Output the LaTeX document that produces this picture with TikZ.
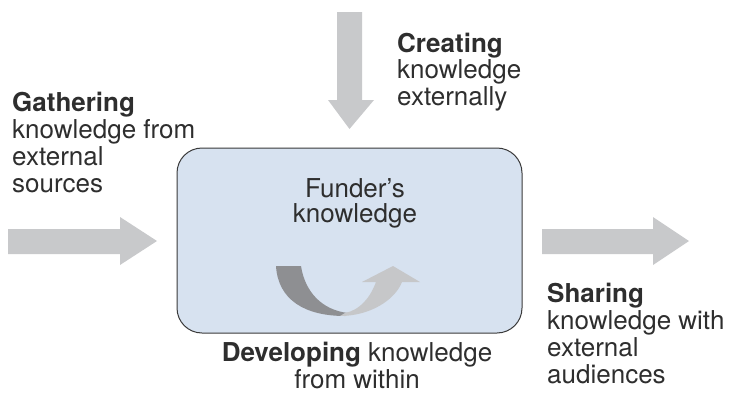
\documentclass[tikz,border=0pt]{standalone}
\usepackage{fontspec}
\setmainfont{TeX Gyre Heros}
\definecolor{arrowgray}{HTML}{C8C9CB}
\definecolor{boxfill}{HTML}{D7E2F0}
\definecolor{boxline}{HTML}{3A3A3A}
\definecolor{txt}{HTML}{2E2E2E}
\definecolor{darkrib}{HTML}{8E8F92}
\definecolor{lightrib}{HTML}{C6C7C9}
\begin{document}
\begin{tikzpicture}[x=1pt,y=-1pt,
  blockarrow/.style={fill=arrowgray,draw=none},
  label/.style={inner sep=0pt,text=txt,font=\fontsize{26}{26.7}\selectfont},
  funderbox/.style={draw=boxline,line width=1pt,fill=boxfill,rounded corners=25pt,minimum width=345pt,minimum height=185pt,inner sep=0pt}]
\useasboundingbox (0,0) rectangle (732,394);
% central box
\node[funderbox] (box) at (349.5,240.5) {};
% block arrows
\fill[blockarrow] (8,229) -- (120,229) -- (120,217) -- (157,241) -- (120,265) -- (120,254) -- (8,254) -- cycle;
\fill[blockarrow] (542,229) -- (653,229) -- (653,217) -- (689,241) -- (653,265) -- (653,254) -- (542,254) -- cycle;
\fill[blockarrow] (337,12) -- (362,12) -- (362,100) -- (374,100) -- (349.5,129) -- (328,100) -- (337,100) -- cycle;
% ribbon arrow inside
\fill[darkrib] (276,266) -- (301,266) .. controls (305,292) and (322,310) .. (348,313) -- (345,316) .. controls (305,316) and (278,300) .. (276,266) -- cycle;
\fill[lightrib] (340,316) .. controls (370,316) and (395,300) .. (402,282) -- (420,282) -- (393,266) -- (362,282) -- (376,282) .. controls (370,298) and (360,310) .. (345,313) -- cycle;
% texts (base anchor = baseline of last line)
\node[label,anchor=base west,align=left] (gather) at (12,192) {\textbf{Gathering}\\knowledge from\\external\\sources};
\node[label,anchor=base west,align=left] (create) at (397,105.4) {\textbf{Creating}\\knowledge\\externally};
\node[label,anchor=base west,align=left] (share) at (547,383) {\textbf{Sharing}\\knowledge with\\external\\audiences};
\node[label,anchor=base,align=center] (develop) at (357,388) {\textbf{Developing} knowledge\\from within};
\node[label,anchor=base,align=center,font=\fontsize{26}{25}\selectfont] (funder) at (355,222) {Funder’s\\knowledge};
\end{tikzpicture}
\end{document}
